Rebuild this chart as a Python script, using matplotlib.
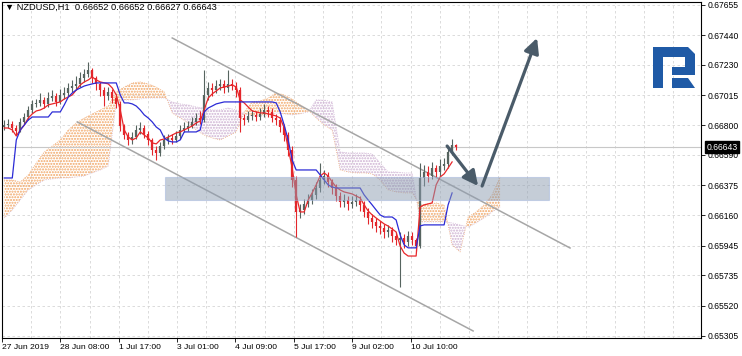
import numpy as np
import matplotlib
matplotlib.use("Agg")
import matplotlib.pyplot as plt
from matplotlib.patches import Polygon, Rectangle

plt.rcParams["font.family"] = ["Liberation Sans", "DejaVu Sans"]
plt.rcParams["hatch.linewidth"] = 1.0

# ---- NZDUSD H1 bars (~2 h per drawn bar) ----
FIRST_OPEN = 0.66790
CLOSE = [
    0.66802, 0.66810, 0.66781, 0.66760, 0.66824, 0.66859, 0.66909, 0.66952, 0.66959, 0.66980,
    0.66952, 0.66994, 0.67008, 0.66966, 0.67016, 0.67030, 0.67065, 0.67079, 0.67094, 0.67136,
    0.67164, 0.67193, 0.67136, 0.67094, 0.67051, 0.67008, 0.67037, 0.66994, 0.66952, 0.66795,
    0.66731, 0.66696, 0.66717, 0.66767, 0.66781, 0.66739, 0.66696, 0.66625, 0.66604, 0.66653,
    0.66696, 0.66710, 0.66696, 0.66724, 0.66767, 0.66781, 0.66795, 0.66824, 0.66852, 0.66838,
    0.67016, 0.67065, 0.67051, 0.67079, 0.67094, 0.67065, 0.67094, 0.67079, 0.67051, 0.66852,
    0.66838, 0.66866, 0.66874, 0.66859, 0.66881, 0.66909, 0.66895, 0.66852, 0.66838, 0.66788,
    0.66731, 0.66625, 0.66412, 0.66185, 0.66199, 0.66242, 0.66270, 0.66306, 0.66355, 0.66412,
    0.66440, 0.66398, 0.66355, 0.66298, 0.66256, 0.66270, 0.66242, 0.66256, 0.66270, 0.66235,
    0.66185, 0.66142, 0.66114, 0.66085, 0.66071, 0.66043, 0.66057, 0.66014, 0.65986, 0.66000,
    0.65972, 0.66014, 0.65986, 0.65943, 0.66426, 0.66469, 0.66440, 0.66497, 0.66469, 0.66511,
    0.66526, 0.66611, 0.66660, 0.66643,
]
HIGH = [
    0.66840, 0.66845, 0.66830, 0.66800, 0.66850, 0.66890, 0.66940, 0.66980, 0.66990, 0.67030,
    0.67000, 0.67040, 0.67050, 0.67030, 0.67060, 0.67070, 0.67100, 0.67120, 0.67150, 0.67180,
    0.67200, 0.67250, 0.67210, 0.67150, 0.67110, 0.67070, 0.67070, 0.67060, 0.67020, 0.66970,
    0.66810, 0.66750, 0.66750, 0.66800, 0.66820, 0.66800, 0.66760, 0.66710, 0.66650, 0.66680,
    0.66730, 0.66740, 0.66740, 0.66760, 0.66800, 0.66820, 0.66830, 0.66860, 0.66890, 0.66900,
    0.67193, 0.67110, 0.67100, 0.67120, 0.67130, 0.67120, 0.67193, 0.67130, 0.67110, 0.67070,
    0.66880, 0.66900, 0.66910, 0.66900, 0.66920, 0.66950, 0.66940, 0.66920, 0.66880, 0.66860,
    0.66810, 0.66750, 0.66650, 0.66440, 0.66240, 0.66280, 0.66310, 0.66350, 0.66400, 0.66533,
    0.66480, 0.66470, 0.66420, 0.66380, 0.66330, 0.66310, 0.66300, 0.66300, 0.66310, 0.66300,
    0.66260, 0.66210, 0.66170, 0.66140, 0.66120, 0.66100, 0.66090, 0.66080, 0.66040, 0.66040,
    0.66030, 0.66050, 0.66040, 0.66000, 0.66533, 0.66520, 0.66510, 0.66540, 0.66520, 0.66560,
    0.66570, 0.66650, 0.66700, 0.66670,
]
LOW = [
    0.66770, 0.66780, 0.66750, 0.66731, 0.66750, 0.66810, 0.66840, 0.66890, 0.66930, 0.66940,
    0.66920, 0.66930, 0.66970, 0.66940, 0.66950, 0.66990, 0.67010, 0.67040, 0.67050, 0.67070,
    0.67110, 0.67140, 0.67100, 0.67050, 0.67010, 0.66940, 0.66980, 0.66960, 0.66920, 0.66760,
    0.66700, 0.66660, 0.66670, 0.66700, 0.66740, 0.66710, 0.66660, 0.66590, 0.66554, 0.66580,
    0.66630, 0.66670, 0.66670, 0.66680, 0.66700, 0.66750, 0.66760, 0.66780, 0.66800, 0.66810,
    0.66820, 0.66980, 0.67010, 0.67030, 0.67050, 0.67030, 0.67040, 0.67050, 0.67000, 0.66753,
    0.66800, 0.66820, 0.66840, 0.66830, 0.66840, 0.66860, 0.66860, 0.66820, 0.66800, 0.66750,
    0.66690, 0.66580, 0.66360, 0.66007, 0.66140, 0.66170, 0.66220, 0.66240, 0.66280, 0.66330,
    0.66380, 0.66360, 0.66310, 0.66260, 0.66220, 0.66220, 0.66200, 0.66210, 0.66230, 0.66190,
    0.66150, 0.66100, 0.66070, 0.66040, 0.66030, 0.66000, 0.66010, 0.65970, 0.65950, 0.65652,
    0.65930, 0.65940, 0.65950, 0.65910, 0.65930, 0.66370, 0.66400, 0.66420, 0.66430, 0.66440,
    0.66480, 0.66500, 0.66590, 0.66627,
]

# Ichimoku lines (red = tenkan, blue = kijun), one value per drawn bar
TENKAN = [
    0.66781, 0.66781, 0.66767, 0.66724, 0.66767, 0.66802, 0.66852, 0.66881, 0.66902, 0.66909,
    0.66923, 0.66945, 0.66952, 0.66959, 0.66966, 0.66987, 0.67001, 0.67016, 0.67051, 0.67087,
    0.67108, 0.67122, 0.67143, 0.67122, 0.67108, 0.67101, 0.67094, 0.67065, 0.67016, 0.66909,
    0.66767, 0.66717, 0.66696, 0.66710, 0.66753, 0.66731, 0.66710, 0.66675, 0.66668, 0.66696,
    0.66703, 0.66717, 0.66731, 0.66746, 0.66753, 0.66767, 0.66781, 0.66795, 0.66817, 0.66831,
    0.66909, 0.66994, 0.67023, 0.67044, 0.67065, 0.67072, 0.67079, 0.67087, 0.67072, 0.66980,
    0.66959, 0.66930, 0.66902, 0.66895, 0.66888, 0.66888, 0.66881, 0.66874, 0.66866, 0.66852,
    0.66781, 0.66639, 0.66497, 0.66306, 0.66185, 0.66185, 0.66270, 0.66320, 0.66377, 0.66440,
    0.66462, 0.66440, 0.66398, 0.66362, 0.66341, 0.66327, 0.66320, 0.66313, 0.66298, 0.66284,
    0.66235, 0.66192, 0.66164, 0.66142, 0.66121, 0.66100, 0.66085, 0.66064, 0.66043, 0.65943,
    0.65893, 0.65872, 0.65872, 0.65872, 0.66220, 0.66235, 0.66242, 0.66249, 0.66377, 0.66433,
    0.66455, 0.66497, 0.66540,
]
KIJUN = [
    0.66426, 0.66426, 0.66426, 0.66696, 0.66767, 0.66802, 0.66838, 0.66859, 0.66859, 0.66859,
    0.66859, 0.66859, 0.66895, 0.66895, 0.66895, 0.66945, 0.67001, 0.67030, 0.67051, 0.67065,
    0.67079, 0.67087, 0.67094, 0.67101, 0.67101, 0.67101, 0.67101, 0.67101, 0.67101, 0.67016,
    0.66959, 0.66959, 0.66952, 0.66937, 0.66909, 0.66874, 0.66852, 0.66824, 0.66788, 0.66767,
    0.66710, 0.66689, 0.66682, 0.66682, 0.66696, 0.66753, 0.66753, 0.66753, 0.66753, 0.66767,
    0.66895, 0.66923, 0.66937, 0.66952, 0.66959, 0.66966, 0.66966, 0.66966, 0.66966, 0.66966,
    0.66966, 0.66966, 0.66966, 0.66966, 0.66966, 0.66966, 0.66966, 0.66966, 0.66959, 0.66895,
    0.66802, 0.66696, 0.66554, 0.66483, 0.66483, 0.66483, 0.66483, 0.66483, 0.66483, 0.66448,
    0.66412, 0.66377, 0.66362, 0.66355, 0.66355, 0.66355, 0.66355, 0.66355, 0.66355, 0.66355,
    0.66306, 0.66270, 0.66235, 0.66199, 0.66164, 0.66149, 0.66149, 0.66149, 0.66128, 0.66022,
    0.65951, 0.65930, 0.65930, 0.65930, 0.66086, 0.66093, 0.66093, 0.66093, 0.66093, 0.66093,
    0.66093, 0.66235, 0.66320,
]
# Kumo (spans already shifted forward), one value every second bar
SPAN_A = [
    0.66412, 0.66412, 0.66398, 0.66448, 0.66533, 0.66611, 0.66653, 0.66696, 0.66767, 0.66817,
    0.66852, 0.66881, 0.66909, 0.66937, 0.67037, 0.67072, 0.67101, 0.67108, 0.67094, 0.67072,
    0.67037, 0.66888, 0.66852, 0.66817, 0.66767, 0.66731, 0.66710, 0.66696, 0.66724, 0.66753,
    0.66895, 0.66966, 0.66973, 0.66994, 0.67030, 0.67016, 0.66987, 0.66945, 0.66909, 0.66852,
    0.66802, 0.66767, 0.66483, 0.66469, 0.66462, 0.66462, 0.66455, 0.66412, 0.66341, 0.66327,
    0.66320, 0.66320, 0.66235, 0.66242, 0.66249, 0.66235, 0.65951, 0.65901, 0.66149, 0.66185,
    0.66235, 0.66306, 0.66433,
]
SPAN_B = [
    0.66142, 0.66199, 0.66270, 0.66341, 0.66377, 0.66412, 0.66419, 0.66426, 0.66426, 0.66433,
    0.66440, 0.66462, 0.66483, 0.66511, 0.66966, 0.66980, 0.66980, 0.66987, 0.66994, 0.66994,
    0.66994, 0.66966, 0.66952, 0.66945, 0.66930, 0.66923, 0.66909, 0.66909, 0.66923, 0.66909,
    0.66881, 0.66866, 0.66866, 0.66874, 0.66888, 0.66881, 0.66874, 0.66881, 0.66895, 0.66980,
    0.66980, 0.66966, 0.66611, 0.66604, 0.66604, 0.66604, 0.66597, 0.66533, 0.66469, 0.66469,
    0.66462, 0.66462, 0.66114, 0.66114, 0.66114, 0.66114, 0.66107, 0.66093, 0.66078, 0.66107,
    0.66142, 0.66185, 0.66220,
]

PRICE_TICKS = [0.67655, 0.67440, 0.67230, 0.67015, 0.66800, 0.66590,
               0.66375, 0.66160, 0.65945, 0.65735, 0.65520, 0.65305]
TIME_LABELS = ["27 Jun 2019", "28 Jun 08:00", "1 Jul 17:00", "3 Jul 01:00",
               "4 Jul 09:00", "5 Jul 17:00", "9 Jul 02:00", "10 Jul 10:00"]
LAST_PRICE = 0.66643
HEADER = "NZDUSD,H1  0.66652 0.66652 0.66627 0.66643"

BULL = "#56645f"
BEAR = "#e3262b"
W, H = 742, 356

fig = plt.figure(figsize=(W / 100, H / 100), dpi=100)
ax = fig.add_axes([2 / W, 18 / H, 699 / W, 336.5 / H])
ax.set_xlim(-0.5, 174.25)
ax.set_ylim(0.65290, 0.67679)

# grid
grid_step = 7.3
xgrid = -0.575 + grid_step * np.arange(24)
for gx in xgrid:
    ax.axvline(gx, color="#d6d6d6", lw=0.6, ls=(0, (3, 3)), zorder=0)
for gy in PRICE_TICKS:
    ax.axhline(gy, color="#d6d6d6", lw=0.6, ls=(0, (3, 3)), zorder=0)

# kumo
sa = np.array(SPAN_A)
sb = np.array(SPAN_B)
kx = np.arange(len(sa)) * 2
ax.fill_between(kx, sa, sb, where=sa >= sb, interpolate=True, facecolor="none",
                edgecolor="#f1a462", hatch="......", lw=0, zorder=1)
ax.fill_between(kx, sa, sb, where=sa < sb, interpolate=True, facecolor="none",
                edgecolor="#cdb0d2", hatch="......", lw=0, zorder=1)
ax.plot(kx, sa, color="#f0b080", lw=0.6, ls=":", zorder=1)
ax.plot(kx, sb, color="#d4bcd8", lw=0.6, ls=":", zorder=1)

# last price line
ax.axhline(LAST_PRICE, color="#c8c8c8", lw=0.8, zorder=1)

# channel lines
ax.plot([42, 141.5], [0.67420, 0.65929], color="#a6a6a6", lw=1.1, zorder=2)
ax.plot([18.25, 117.25], [0.66824, 0.65340], color="#a6a6a6", lw=1.1, zorder=2)

# candles
close = np.array(CLOSE)
opn = np.concatenate([[FIRST_OPEN], close[:-1]])
idx = np.arange(len(close))
cols = np.where(close >= opn, BULL, BEAR)
ax.vlines(idx, LOW, HIGH, colors=cols, lw=0.8, zorder=3)
ax.vlines(idx, np.minimum(opn, close), np.maximum(opn, close) + 0.00002,
          colors=cols, lw=1.6, zorder=3)

# tenkan / kijun
ax.plot(np.arange(len(TENKAN)), TENKAN, color="#e8262a", lw=0.9, zorder=4)
ax.plot(np.arange(len(KIJUN)), KIJUN, color="#2b2bd6", lw=0.9, zorder=4)

# support zone
ax.add_patch(Rectangle((40.25, 0.66270), 96, 0.00163, facecolor="#8d9db1",
                       alpha=0.5, edgecolor="#9fb4dc", lw=0.8, zorder=5))

# forecast arrows
arrow_kw = dict(arrowstyle="-|>,head_length=0.9,head_width=0.45", color="#4a5b69",
                lw=2.3, shrinkA=0, shrinkB=0)
ax.annotate("", xy=(118.5, 0.66369), xytext=(110.75, 0.66653),
            arrowprops=arrow_kw, zorder=6)
ax.annotate("", xy=(133.25, 0.67420), xytext=(119.5, 0.66369),
            arrowprops=arrow_kw, zorder=6)

# axes styling
for s in ax.spines.values():
    s.set_color("black")
    s.set_linewidth(0.8)
ax.yaxis.tick_right()
ax.set_yticks(PRICE_TICKS)
ax.set_yticklabels([f"{p:.5f}" for p in PRICE_TICKS])
ax.set_xticks(xgrid[::2][:len(TIME_LABELS)])
ax.set_xticklabels(TIME_LABELS)
for lbl in ax.get_xticklabels():
    lbl.set_ha("left")
ax.tick_params(axis="y", length=3, width=0.6, pad=1.5, labelsize=6.2, colors="black")
ax.tick_params(axis="x", length=3, width=0.6, pad=1.5, labelsize=6.1, colors="black")

# header + last price tag
ax.text(0.004, 0.982, "\u25bc " + HEADER, transform=ax.transAxes, fontsize=6.7,
        va="center", ha="left", zorder=7)
ax.text(1.0075, LAST_PRICE, f"{LAST_PRICE:.5f}", transform=ax.get_yaxis_transform(),
        fontsize=6.2, color="white", va="center", ha="left", clip_on=False, zorder=8,
        bbox=dict(boxstyle="square,pad=0.18", fc="black", ec="black"))


# logo
def px(x, y):
    return (x / W, 1 - y / H)


logo_a = [px(653, 47), px(688, 47), px(695, 54), px(695, 75), px(672, 75), px(672, 67),
          px(685, 67), px(685, 57), px(663, 57), px(663, 88), px(653, 88)]
logo_b = [px(672, 78), px(688, 78), px(695, 88), px(672, 88)]
for pts in (logo_a, logo_b):
    fig.patches.append(Polygon(pts, closed=True, transform=fig.transFigure,
                               facecolor="#1f5aa6", edgecolor="none"))

fig.savefig("out.png", dpi=100)
